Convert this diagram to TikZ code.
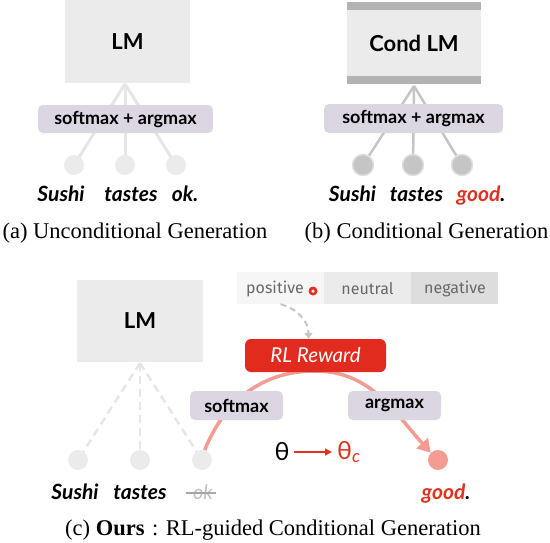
\documentclass[tikz,border=0pt]{standalone}
\usepackage{fontspec}
\setmainfont{Liberation Serif}
\newfontfamily\gs{Lato}
\newfontfamily\fs{Fira Sans}
\usetikzlibrary{arrows.meta,backgrounds,calc}
\definecolor{boxgray}{HTML}{EBEBEB}
\definecolor{lav}{HTML}{DCD6E2}
\definecolor{barg}{HTML}{B3B3B3}
\definecolor{rlred}{HTML}{E12B1E}
\definecolor{pinkarc}{HTML}{F29C93}
\definecolor{wordred}{HTML}{E0301E}
\definecolor{sgray}{HTML}{686868}
\definecolor{lineA}{HTML}{E6E6E6}
\definecolor{lineB}{HTML}{C5C5C5}
\tikzset{
  lmbox/.style={fill=boxgray, inner sep=0pt, font=\gs\bfseries\fontsize{22}{26}\selectfont},
  lavbox/.style={fill=lav, rounded corners=5pt, inner sep=0pt, font=\gs\bfseries\fontsize{18}{21}\selectfont},
  tokA/.style={circle, fill=boxgray, minimum size=20pt, inner sep=0pt},
  tokB/.style={circle, fill=lineB, draw=gray!25, line width=1.5pt, minimum size=21pt, inner sep=0pt},
  word/.style={anchor=base, inner sep=0pt, font=\gs\bfseries\itshape\fontsize{21}{25}\selectfont},
  capt/.style={anchor=base, inner sep=0pt, font=\fontsize{22.5}{27}\selectfont},
  senti/.style={inner sep=0pt, font=\fs\fontsize{16}{19}\selectfont, text=sgray},
  linkA/.style={draw=lineA, line width=3pt},
  linkB/.style={draw=lineB, line width=2.5pt},
  linkC/.style={draw=lineA, line width=2.5pt, dash pattern=on 8pt off 5pt},
}
\begin{document}
\begin{tikzpicture}[x=1pt,y=1pt]
\useasboundingbox (0,0) rectangle (550,-542);
% ---------- (a)
\node[lmbox, minimum width=125pt, minimum height=83pt] (lmA) at (127.5,-41.5) {LM};
\node[lavbox, minimum width=175pt, minimum height=28pt] (smA) at (125.5,-119) {softmax + argmax};
\node[tokA] (a1) at (74,-165) {};
\node[tokA] (a2) at (125,-165) {};
\node[tokA] (a3) at (176,-165) {};
\coordinate (apA) at (125,-84);
\begin{scope}[on background layer]
\draw[linkA] (apA) -- (a1.center);
\draw[linkA] (apA) -- (a2.center);
\draw[linkA] (apA) -- (a3.center);
\end{scope}
\node[word] (wa1) at (61,-201) {Sushi};
\node[word] (wa2) at (131,-201) {tastes};
\node[word] (wa3) at (185,-201) {ok.};
\node[capt] (capA) at (135,-238) {(a) Unconditional Generation};
% ---------- (b)
\node[lmbox, minimum width=134pt, minimum height=82pt] (lmB) at (414,-43) {Cond LM};
\fill[barg] (lmB.north west) rectangle ($(lmB.north east)+(0,-8)$);
\fill[barg] (lmB.south west) rectangle ($(lmB.south east)+(0,8)$);
\node[lavbox, minimum width=179pt, minimum height=29pt] (smB) at (413.5,-118.5) {softmax + argmax};
\node[tokB] (b1) at (363,-165) {};
\node[tokB] (b2) at (413,-165) {};
\node[tokB] (b3) at (462,-165) {};
\coordinate (apB) at (414,-86);
\begin{scope}[on background layer]
\draw[linkB] (apB) -- (b1.center);
\draw[linkB] (apB) -- (b2.center);
\draw[linkB] (apB) -- (b3.center);
\end{scope}
\node[word] (wb1) at (352.5,-201) {Sushi};
\node[word] (wb2) at (416.5,-201) {tastes};
\node[word] (wb3) at (481,-201) {\textcolor{wordred}{good}.};
\node[capt] (capB) at (426.5,-238) {(b) Conditional Generation};
% ---------- (c)
\node[lmbox, minimum width=126pt, minimum height=82pt] (lmC) at (140,-321) {LM};
\node[tokA] (c1) at (78,-460) {};
\node[tokA] (c2) at (140,-460) {};
\node[tokA] (c3) at (202,-460) {};
\coordinate (apC) at (140,-363);
\begin{scope}[on background layer]
\draw[linkC] (apC) -- (c1.center);
\draw[linkC] (apC) -- (c2.center);
\draw[linkC] (apC) -- (c3.center);
\end{scope}
\node[word] (wc1) at (75,-499) {Sushi};
\node[word] (wc2) at (140,-499) {tastes};
\node[word, font=\gs\itshape\fontsize{20}{24}\selectfont, text=gray!50] (wc3) at (203,-499) {ok};
\draw[gray!70, line width=1.2pt] ($(wc3.base west)+(-7,6)$) -- ($(wc3.base east)+(3,6)$);
\node[word] (wc4) at (446,-499) {\textcolor{wordred}{good}.};
\node[capt] (capC) at (273,-535) {(c) \textbf{Ours}\,\,:\,\,RL-guided Conditional Generation};
% sentiment bar
\node[fill=gray!7, minimum width=87pt, minimum height=32pt, inner sep=0pt] (pos) at (280.5,-288) {};
\node[fill=boxgray, minimum width=87pt, minimum height=32pt, inner sep=0pt] (neu) at (367.5,-288) {};
\node[fill=gray!27, minimum width=87pt, minimum height=32pt, inner sep=0pt] (neg) at (454.5,-288) {};
\node[senti] (tpos) at (275,-289) {positive};
\node[senti] (tneu) at (367.5,-289) {neutral};
\node[senti] (tneg) at (455,-289) {negative};
\node[circle, fill=wordred, minimum size=9pt, inner sep=0pt] (ring) at (313,-291) {};
\node[circle, fill=white, minimum size=3.5pt, inner sep=0pt] (ringin) at (ring) {};
% RL reward
\node[fill=rlred, rounded corners=6pt, minimum width=141pt, minimum height=33pt, inner sep=0pt, text=white, font=\gs\itshape\fontsize{20.5}{24}\selectfont] (rl) at (315.5,-355.5) {RL Reward};
\draw[draw=lineB, line width=2pt, dash pattern=on 6pt off 4pt, -{Triangle[width=8pt,length=6pt]}] (pos.south) to[out=-15, in=90] ($(rl.north)+(-7,0)$);
\node[lavbox, minimum width=93pt, minimum height=29pt] (smC) at (236.5,-405.5) {softmax};
\node[lavbox, minimum width=93pt, minimum height=29pt] (amC) at (394.5,-405.5) {argmax};
\node[circle, fill=pinkarc, minimum size=20pt, inner sep=0pt] (gc) at (438,-460) {};
\coordinate (peak) at (315,-371);
\begin{scope}[on background layer]
\draw[pinkarc, line width=3.5pt, -{Triangle[width=15pt,length=13pt]}] (c3.75) to[out=68,in=180] (peak) to[out=0,in=132] (gc.north west);
\end{scope}
\node[inner sep=0pt, font=\gs\fontsize{25}{29}\selectfont] (th) at (282,-452) {θ};
\node[anchor=west, inner sep=0pt, font=\gs\fontsize{25}{29}\selectfont, text=wordred] (thc) at (337,-452) {θ\textsubscript{\itshape c}};
\draw[wordred, line width=1.6pt, -{Triangle[width=7pt,length=7pt]}] ($(th.east)+(4,0)$) -- ($(thc.west)+(-5,0)$);
\end{tikzpicture}
\end{document}
